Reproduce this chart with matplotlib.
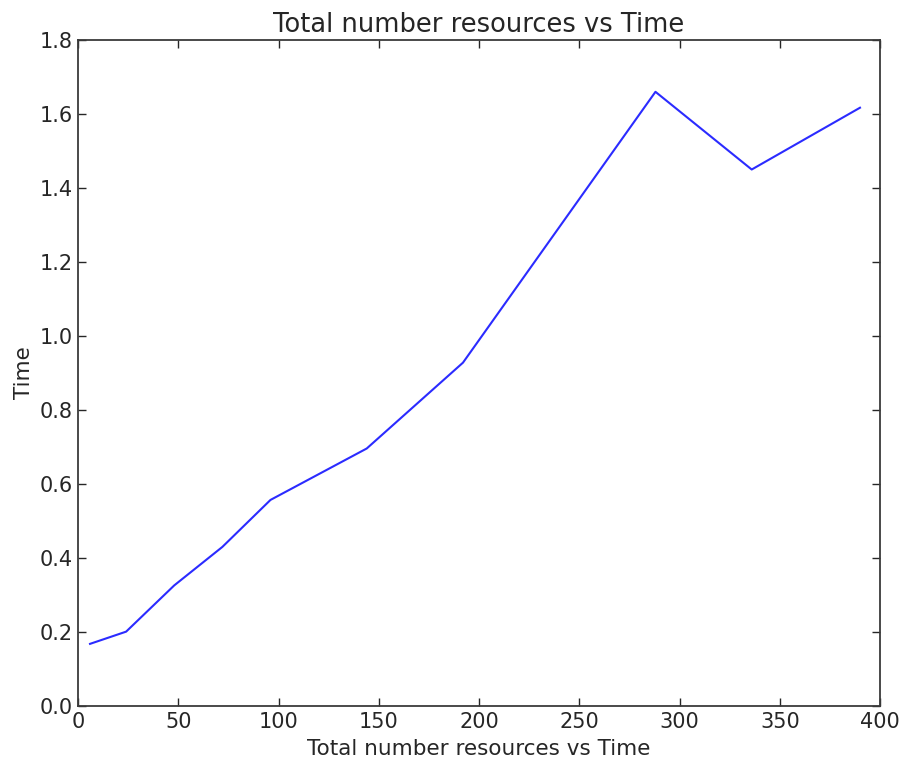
import matplotlib
matplotlib.use("Agg")
import matplotlib.pyplot as plt

# values
resources = [6, 24, 48, 72, 96, 144, 192, 288, 336, 390]
times = [0.168, 0.201, 0.326, 0.430, 0.557, 0.696, 0.928, 1.660, 1.450, 1.617]

ink = "#262626"

fig = plt.figure(figsize=(9.08, 7.65), dpi=100)
ax = fig.add_axes([0.0859, 0.0771, 0.8833, 0.8706])

ax.plot(resources, times, color="#2b2bff", linewidth=1.5)

ax.set_xlim(0, 400)
ax.set_ylim(0, 1.8)
ax.set_xticks(range(0, 401, 50))
ax.set_yticks([i * 0.2 for i in range(10)])
ax.tick_params(direction="in", top=True, right=True, length=6, width=1,
               labelsize=15, pad=4, colors=ink)
for sp in ax.spines.values():
    sp.set_color("#3a3a3a")
    sp.set_linewidth(1.3)

ax.set_title("Total number resources vs Time", fontsize=18.5, color=ink)
ax.set_xlabel("Total number resources vs Time", fontsize=15.5, color=ink, labelpad=5)
ax.set_ylabel("Time", fontsize=15.5, color=ink, labelpad=4)

fig.savefig("out.png", dpi=100)
